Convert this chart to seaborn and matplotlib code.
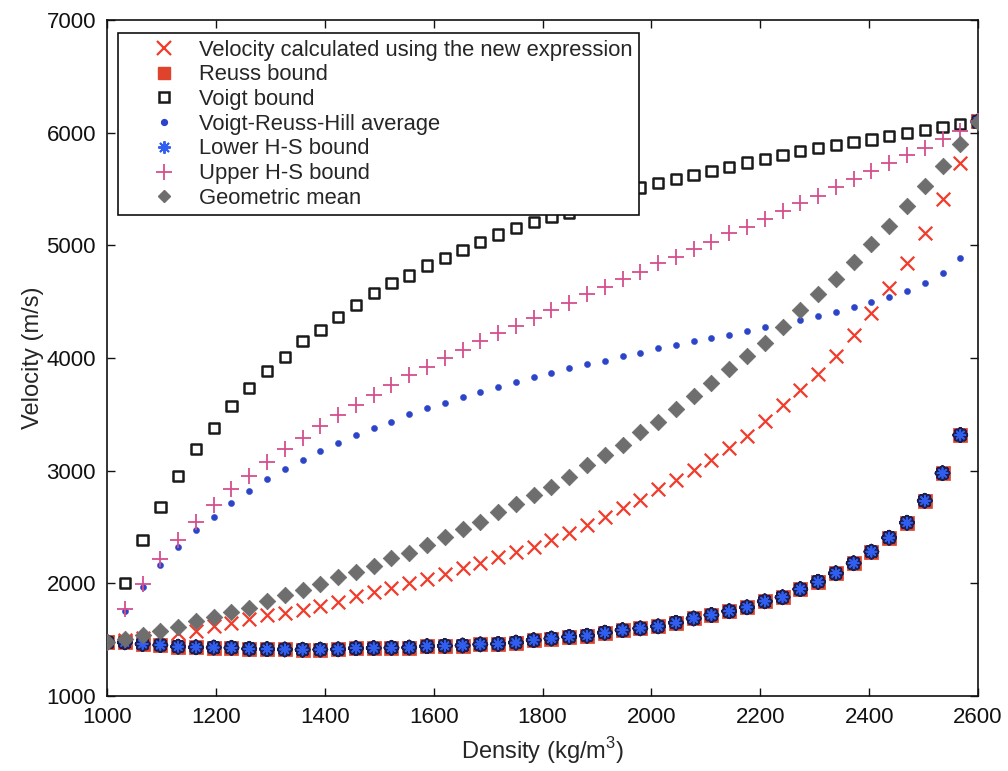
import numpy as np
import pandas as pd
import matplotlib
matplotlib.use("Agg")
import matplotlib.pyplot as plt
import matplotlib.patheffects as pe
from matplotlib.lines import Line2D
import seaborn as sns

# Bulk density of the mixture (kg/m^3), 50 evenly spaced samples
density = np.linspace(1000, 2600, 50)

# Velocities (m/s)
v_new_expression = [
    1480, 1497, 1515, 1535, 1555, 1580, 1618, 1645, 1680, 1715,
    1740, 1765, 1801, 1837, 1885, 1920, 1956, 2000, 2041, 2086,
    2133, 2183, 2231, 2281, 2325, 2385, 2449, 2518, 2591, 2666,
    2740, 2834, 2917, 3006, 3095, 3200, 3305, 3443, 3583, 3716,
    3858, 4018, 4204, 4402, 4618, 4846, 5106, 5408, 5727, 6100,
]
v_reuss = [
    1478, 1476, 1462, 1452, 1438, 1432, 1430, 1428, 1419, 1416,
    1413, 1411, 1412, 1414, 1424, 1425, 1428, 1430, 1442, 1445,
    1448, 1458, 1462, 1474, 1495, 1510, 1525, 1535, 1562, 1584,
    1600, 1618, 1650, 1688, 1719, 1752, 1787, 1840, 1876, 1948,
    2014, 2089, 2178, 2281, 2405, 2538, 2733, 2977, 3316, 6100,
]
v_voigt = [
    1480, 2000, 2385, 2675, 2953, 3190, 3376, 3574, 3731, 3887,
    4006, 4153, 4248, 4366, 4470, 4574, 4663, 4733, 4820, 4885,
    4958, 5032, 5097, 5151, 5209, 5254, 5290, 5350, 5410, 5465,
    5514, 5556, 5586, 5624, 5661, 5698, 5736, 5763, 5801, 5840,
    5866, 5890, 5920, 5940, 5973, 5994, 6023, 6047, 6077, 6100,
]
v_vrh = [
    1480, 1750, 1970, 2163, 2325, 2473, 2591, 2716, 2822, 2923,
    3012, 3095, 3175, 3245, 3316, 3376, 3434, 3500, 3553, 3603,
    3656, 3701, 3745, 3789, 3828, 3869, 3908, 3944, 3976, 4018,
    4041, 4090, 4115, 4153, 4180, 4208, 4242, 4272, 4305, 4337,
    4372, 4411, 4450, 4494, 4544, 4597, 4668, 4757, 4885, 6100,
]
v_lower_hs = [
    1478, 1476, 1462, 1452, 1438, 1432, 1430, 1428, 1419, 1416,
    1413, 1411, 1412, 1414, 1424, 1425, 1428, 1430, 1442, 1445,
    1448, 1458, 1462, 1474, 1495, 1510, 1525, 1535, 1562, 1584,
    1600, 1618, 1650, 1688, 1719, 1752, 1787, 1840, 1876, 1948,
    2014, 2089, 2178, 2281, 2405, 2538, 2733, 2977, 3316, 6100,
]
v_upper_hs = [
    1480, 1769, 1994, 2213, 2385, 2547, 2695, 2834, 2953, 3080,
    3195, 3287, 3393, 3494, 3583, 3671, 3760, 3849, 3923, 3997,
    4071, 4153, 4219, 4284, 4352, 4426, 4491, 4565, 4627, 4698,
    4766, 4840, 4899, 4964, 5032, 5106, 5160, 5230, 5304, 5372,
    5437, 5514, 5586, 5659, 5727, 5801, 5866, 5940, 6012, 6100,
]
v_geometric = [
    1480, 1505, 1545, 1580, 1615, 1662, 1698, 1748, 1782, 1840,
    1893, 1940, 1994, 2057, 2103, 2158, 2226, 2270, 2340, 2414,
    2479, 2547, 2636, 2704, 2784, 2858, 2946, 3050, 3139, 3228,
    3340, 3435, 3548, 3665, 3775, 3899, 4018, 4136, 4278, 4426,
    4565, 4698, 4849, 5012, 5171, 5349, 5526, 5706, 5896, 6090,
]

labels = [
    "Velocity calculated using the new expression",
    "Reuss bound",
    "Voigt bound",
    "Voigt-Reuss-Hill average",
    "Lower H-S bound",
    "Upper H-S bound",
    "Geometric mean",
]

sns.set_theme(style="ticks")
plt.rcParams["font.family"] = ["Liberation Sans", "DejaVu Sans"]
plt.rcParams["mathtext.fontset"] = "custom"
plt.rcParams["mathtext.rm"] = "Liberation Sans"

fig = plt.figure(figsize=(10.08, 7.71), dpi=100)
ax = fig.add_axes([0.1062, 0.0973, 0.8641, 0.8768])

C_NEW = "#f23b2b"
C_REUSS = "#e0432b"
C_VOIGT = "#1a1a1a"
C_VRH = "#2b44c8"
C_LHS = "#2f5ef0"
C_UHS = "#d54e8e"
C_GEO = "#6e6e6e"
ASTERISK = (8, 2, 0)

def frame(values):
    return pd.DataFrame({"density": density, "velocity": values})

sns.scatterplot(data=frame(v_new_expression), x="density", y="velocity", ax=ax,
                marker="x", s=95, color=C_NEW, linewidth=1.6, zorder=3)
sns.scatterplot(data=frame(v_reuss), x="density", y="velocity", ax=ax,
                marker="s", s=110, color=C_REUSS, edgecolor=C_REUSS,
                linewidth=0.5, zorder=4)
sns.scatterplot(data=frame(v_voigt), x="density", y="velocity", ax=ax,
                marker="s", s=55, color=C_VOIGT, facecolor="none",
                edgecolor=C_VOIGT, linewidth=1.8, zorder=4)
sns.scatterplot(data=frame(v_vrh), x="density", y="velocity", ax=ax,
                marker="o", s=20, color=C_VRH, edgecolor=C_VRH,
                linewidth=0.3, zorder=5)
sns.scatterplot(data=frame(v_lower_hs), x="density", y="velocity", ax=ax,
                marker=ASTERISK, s=54, color=C_LHS, linewidth=1.1, zorder=6)
ax.collections[-1].set_path_effects(
    [pe.withStroke(linewidth=4.0, foreground="#1e1f4e"), pe.Normal()])
sns.scatterplot(data=frame(v_upper_hs), x="density", y="velocity", ax=ax,
                marker="+", s=140, color=C_UHS, linewidth=1.3, zorder=7)
sns.scatterplot(data=frame(v_geometric), x="density", y="velocity", ax=ax,
                marker="D", s=70, color=C_GEO, edgecolor=C_GEO,
                linewidth=0.6, zorder=8)

ax.set_xlim(1000, 2600)
ax.set_ylim(1000, 7000)
ax.set_xticks(np.arange(1000, 2601, 200))
ax.set_yticks(np.arange(1000, 7001, 1000))
ax.tick_params(direction="in", length=6, width=1.0, top=True, right=True,
               labelsize=16, colors="#111111", pad=8)
for sp in ax.spines.values():
    sp.set_linewidth(1.2)
    sp.set_color("#111111")
    sp.set_visible(True)

ax.set_xlabel("Density (kg/m$^3$)", fontsize=17, labelpad=5)
ax.set_ylabel("Velocity (m/s)", fontsize=17, labelpad=2)

handles = [
    Line2D([], [], ls="none", marker="x", ms=9.5, mew=1.6, color=C_NEW),
    Line2D([], [], ls="none", marker="s", ms=9.0, color=C_REUSS, mec=C_REUSS),
    Line2D([], [], ls="none", marker="s", ms=6.5, mew=1.8, mfc="none", mec=C_VOIGT),
    Line2D([], [], ls="none", marker="o", ms=4.2, color=C_VRH),
    Line2D([], [], ls="none", marker=ASTERISK, ms=9.0, mew=1.4, color=C_LHS),
    Line2D([], [], ls="none", marker="+", ms=11.5, mew=1.3, color=C_UHS),
    Line2D([], [], ls="none", marker="D", ms=6.5, color=C_GEO),
]
leg = ax.legend(handles=handles, labels=labels, loc="upper left",
                bbox_to_anchor=(0.0126, 0.9808), borderaxespad=0,
                fontsize=15.8, frameon=True, fancybox=False, framealpha=1,
                edgecolor="#111111", handlelength=3.6, handletextpad=-0.2,
                labelspacing=0.17, borderpad=0.3, numpoints=1)
leg.get_frame().set_linewidth(1.2)
leg.set_zorder(20)

fig.savefig("out.png", dpi=100)
